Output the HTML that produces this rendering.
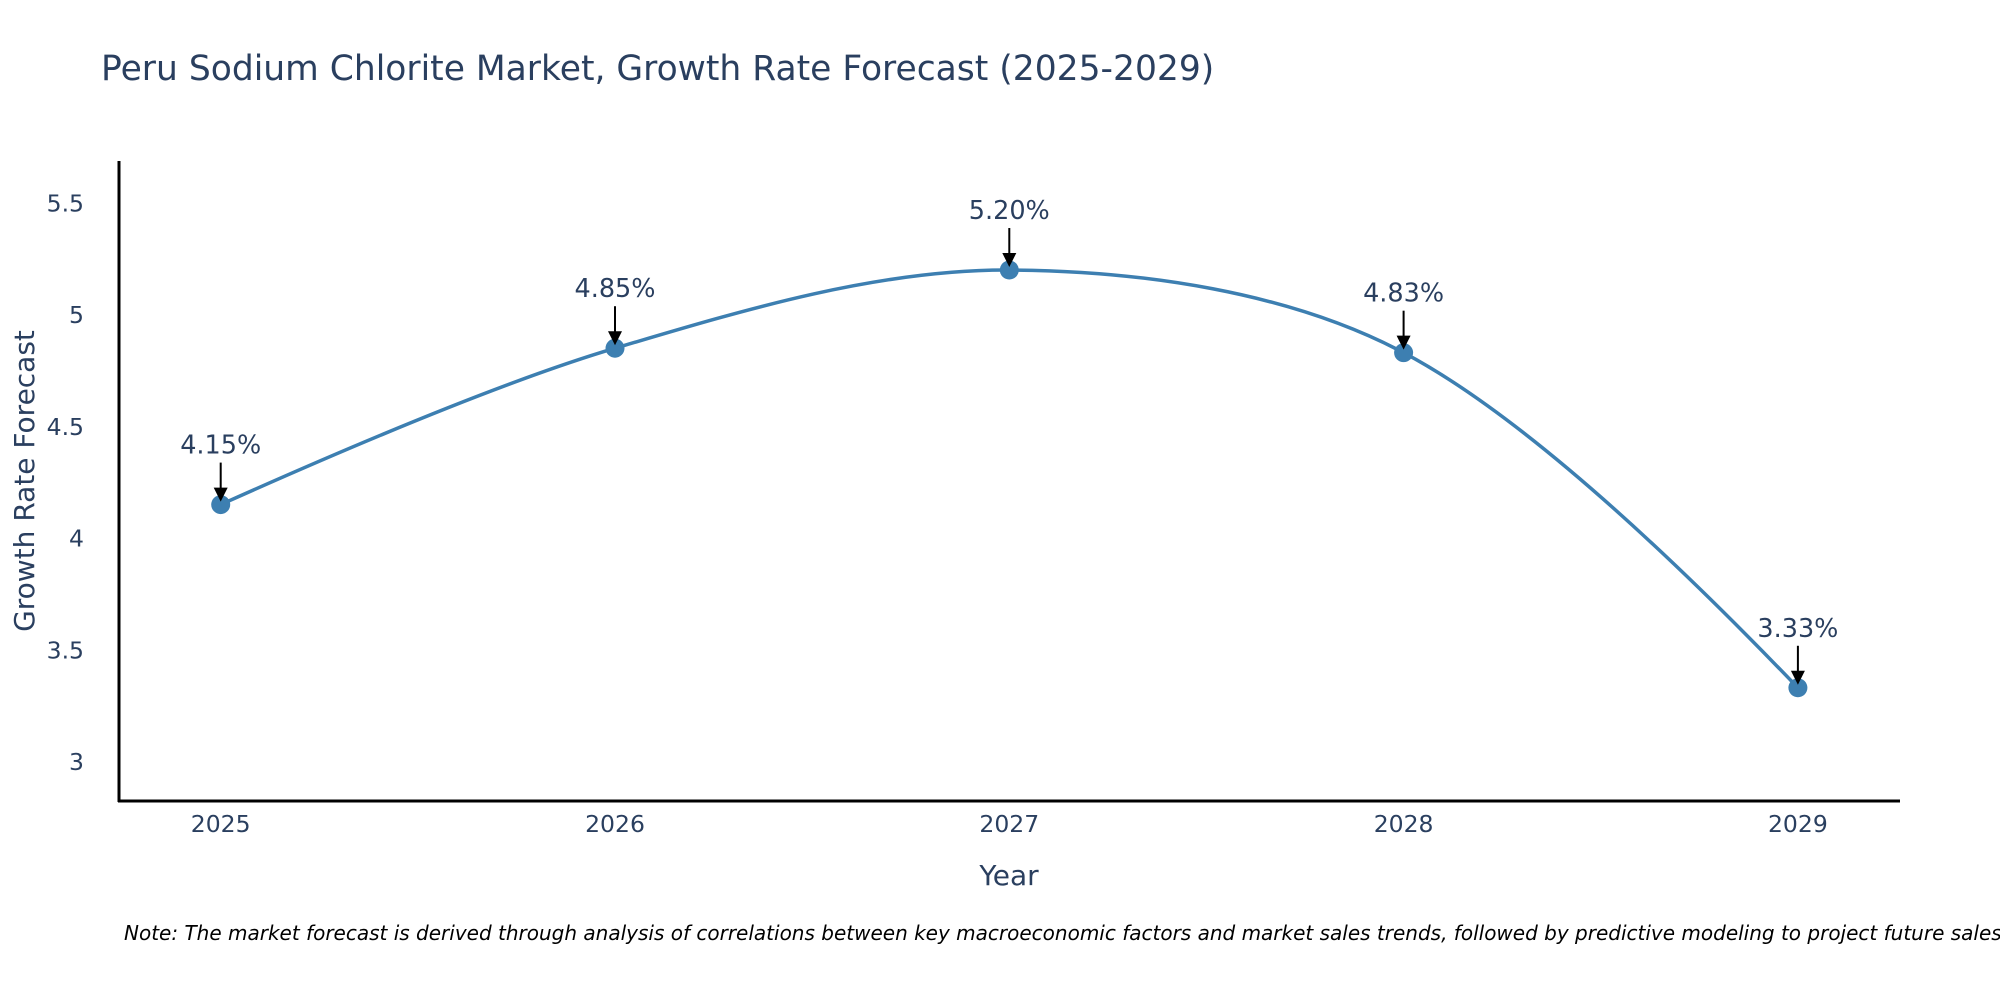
<!DOCTYPE html>
<html><head><meta charset="utf-8"><style>
html,body{margin:0;padding:0;background:#fff;}
svg{display:block;font-family:"DejaVu Sans","Liberation Sans",sans-serif;}
</style></head><body>
<svg id="chart" width="2000" height="1000" viewBox="0 0 2000 1000">
<text x="101" y="80" font-size="34.5" fill="#2a3f5f">Peru Sodium Chlorite Market, Growth Rate Forecast (2025-2029)</text>
<g id="yticks"></g>
<g id="xticks"></g>
<line x1="119" y1="161" x2="119" y2="802" stroke="#000" stroke-width="3"/>
<line x1="118" y1="801" x2="1900" y2="801" stroke="#000" stroke-width="3"/>
<path id="line" fill="none" stroke="#3d7fb1" stroke-width="3.5"/>
<g id="points"></g>
<g id="annots"></g>
<text transform="translate(34,481) rotate(-90)" text-anchor="middle" font-size="28" fill="#2a3f5f">Growth Rate Forecast</text>
<text x="1009" y="885" text-anchor="middle" font-size="28" fill="#2a3f5f">Year</text>
<text x="124" y="940" font-size="20" font-style="italic" fill="#000">Note: The market forecast is derived through analysis of correlations between key macroeconomic factors and market sales trends, followed by predictive modeling to project future sales.</text>
</svg>
<script>
const years = [2025, 2026, 2027, 2028, 2029];
const rates = [4.15, 4.85, 5.20, 4.83, 3.33];
const labels = ["4.15%", "4.85%", "5.20%", "4.83%", "3.33%"];
const yTicks = [3, 3.5, 4, 4.5, 5, 5.5];
const yTickLabels = ["3", "3.5", "4", "4.5", "5", "5.5"];

const NS = "http://www.w3.org/2000/svg";
function xS(v){ return 220.7 + (v - 2025) * 394.3; }
function yS(v){ return 761.5 - (v - 3) * 223.4; }
function mk(tag, attrs, parent){
  const e = document.createElementNS(NS, tag);
  for (const k in attrs) e.setAttribute(k, attrs[k]);
  parent.appendChild(e); return e;
}
const yt = document.getElementById('yticks');
yTicks.forEach((t, i) => {
  const el = mk('text', {x: 84, y: yS(t) + 8.5, 'text-anchor': 'end', 'font-size': 23.5, fill: '#2a3f5f'}, yt);
  el.textContent = yTickLabels[i];
  
  
});
const xt = document.getElementById('xticks');
years.forEach(y => {
  const el = mk('text', {x: xS(y), y: 832, 'text-anchor': 'middle', 'font-size': 23.5, fill: '#2a3f5f'}, xt);
  el.textContent = String(y);
  
  
});
const pts = years.map((y, i) => [xS(y), yS(rates[i])]);
const tang = pts.map((p, i) => {
  if (i === 0 || i === pts.length - 1) return null;
  const p0 = pts[i-1], p2 = pts[i+1];
  const d1 = Math.hypot(p[0]-p0[0], p[1]-p0[1]), d2 = Math.hypot(p2[0]-p[0], p2[1]-p[1]);
  const dx = p2[0]-p0[0], dy = p2[1]-p0[1];
  const f = 1 / 3;
  return {
    a: [p[0] - dx * f * d1 / (d1 + d2), p[1] - dy * f * d1 / (d1 + d2)],
    b: [p[0] + dx * f * d2 / (d1 + d2), p[1] + dy * f * d2 / (d1 + d2)]
  };
});
let d = 'M' + pts[0][0] + ',' + pts[0][1];
for (let i = 1; i < pts.length; i++) {
  if (i - 1 === 0) { const c = tang[i].a; d += ' Q' + c[0] + ',' + c[1] + ' ' + pts[i][0] + ',' + pts[i][1]; }
  else if (i === pts.length - 1) { const c = tang[i-1].b; d += ' Q' + c[0] + ',' + c[1] + ' ' + pts[i][0] + ',' + pts[i][1]; }
  else { const c1 = tang[i-1].b, c2 = tang[i].a; d += ' C' + c1[0] + ',' + c1[1] + ' ' + c2[0] + ',' + c2[1] + ' ' + pts[i][0] + ',' + pts[i][1]; }
}
document.getElementById('line').setAttribute('d', d);
const pg = document.getElementById('points');
const ag = document.getElementById('annots');
pts.forEach((p, i) => {
  const c = mk('circle', {cx: p[0], cy: p[1], r: 9.5, fill: '#3d7fb1'}, pg);
  
  
  const l = mk('line', {x1: p[0], y1: p[1] - 42, x2: p[0], y2: p[1] - 14, stroke: '#000', 'stroke-width': 2}, ag);
  
  
  const h = mk('polygon', {points: (p[0]-7)+','+(p[1]-17)+' '+(p[0]+7)+','+(p[1]-17)+' '+p[0]+','+(p[1]-3), fill: '#000'}, ag);
  
  
  const t = mk('text', {x: p[0], y: p[1] - 51, 'text-anchor': 'middle', 'font-size': 25.5, fill: '#2a3f5f'}, ag);
  t.textContent = labels[i];
  
  
});
</script>
</body></html>
